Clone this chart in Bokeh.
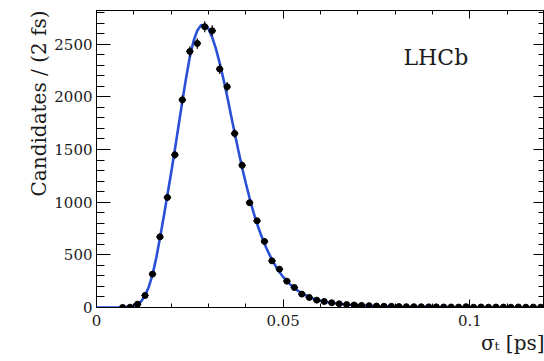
import numpy as np
from bokeh.plotting import figure
from bokeh.models import Range1d, LinearAxis, FixedTicker, Label, ColumnDataSource, Title
from bokeh.embed import file_html
from bokeh.resources import INLINE

# ---- data ----
bin_centers = [0.007, 0.009, 0.011, 0.013, 0.015, 0.017, 0.019, 0.021, 0.023, 0.025,
               0.027, 0.029, 0.031, 0.033, 0.035, 0.037, 0.039, 0.041, 0.043, 0.045,
               0.047, 0.049, 0.051, 0.053, 0.055, 0.057, 0.059, 0.061, 0.063, 0.065,
               0.067, 0.069, 0.071, 0.073, 0.075, 0.077, 0.079, 0.081, 0.083, 0.085,
               0.087, 0.089, 0.091, 0.093, 0.095, 0.097, 0.099, 0.101, 0.103, 0.105,
               0.107, 0.109, 0.111, 0.113, 0.115, 0.117, 0.119]
counts = [1, 3, 32, 114, 317, 671, 1045, 1450, 1972, 2431,
          2507, 2666, 2628, 2264, 2096, 1652, 1350, 995, 823, 627,
          443, 364, 250, 190, 127, 95, 70, 57, 45, 35,
          28, 24, 20, 17, 14, 12, 11, 9, 8, 8,
          7, 6, 6, 5, 5, 4, 8, 3, 5, 3,
          4, 4, 3, 5, 3, 4, 3]

fit_t = [0.000, 0.005, 0.007, 0.009, 0.010, 0.011, 0.012, 0.013, 0.014, 0.015,
         0.016, 0.017, 0.018, 0.019, 0.020, 0.021, 0.022, 0.023, 0.024, 0.025,
         0.026, 0.027, 0.028, 0.029, 0.030, 0.031, 0.032, 0.033, 0.034, 0.035,
         0.036, 0.037, 0.038, 0.039, 0.040, 0.041, 0.042, 0.043, 0.044, 0.045,
         0.046, 0.047, 0.048, 0.049, 0.050, 0.051, 0.052, 0.053, 0.054, 0.055,
         0.056, 0.057, 0.058, 0.059, 0.060, 0.062, 0.064, 0.066, 0.068, 0.070,
         0.075, 0.080, 0.090, 0.100, 0.110, 0.120]
fit_n = [0, 0, 1, 6, 14, 30, 60, 115, 195, 310,
         470, 660, 860, 1070, 1280, 1500, 1730, 1960, 2180, 2380,
         2530, 2630, 2680, 2685, 2645, 2565, 2455, 2320, 2170, 2005,
         1830, 1660, 1490, 1330, 1180, 1040, 910, 795, 695, 605,
         525, 455, 392, 338, 290, 250, 215, 185, 158, 135,
         116, 100, 86, 74, 65, 50, 40, 32, 26, 21,
         14, 10, 6, 4, 3, 2]

x_major_ticks = [0, 0.05, 0.1]
x_tick_labels = ["0", "0.05", "0.1"]
x_minor_ticks = [0.01, 0.02, 0.03, 0.04, 0.06, 0.07, 0.08, 0.09, 0.11]
y_major_ticks = [0, 500, 1000, 1500, 2000, 2500]
y_minor_ticks = [v for v in range(100, 2900, 100) if v % 500 != 0]

y_title = "Candidates / (2 fs)"
x_title = "σₜ [ps]"

FONT = "DejaVu Serif"
FIT_COLOR = "#2a50d8"
TXT = "#1a1a1a"

p = figure(width=544, height=361, x_range=Range1d(0, 0.12), y_range=Range1d(0, 2820),
           output_backend="svg", toolbar_location=None,
           x_axis_type=None, y_axis_type=None,
           min_border_left=96, min_border_right=0, min_border_top=10, min_border_bottom=54)
p.background_fill_color = "white"
p.border_fill_color = "white"
p.outline_line_color = "black"
p.outline_line_width = 1
p.xgrid.visible = False
p.ygrid.visible = False


def style_axis(ax, tin, tmin, labels=True):
    ax.major_tick_in = tin
    ax.major_tick_out = 0
    ax.minor_tick_in = tmin
    ax.minor_tick_out = 0
    ax.axis_line_color = "black"
    ax.major_tick_line_color = "black"
    ax.minor_tick_line_color = "black"
    ax.major_label_text_font = FONT
    ax.major_label_text_font_size = "15px" if labels else "0px"
    ax.major_label_text_color = TXT


xb = LinearAxis(ticker=FixedTicker(ticks=x_major_ticks, minor_ticks=x_minor_ticks))
xb.major_label_overrides = dict(zip(x_major_ticks, x_tick_labels))
style_axis(xb, 8, 4)
xb.major_label_standoff = 7
p.add_layout(xb, "below")

xt = LinearAxis(ticker=FixedTicker(ticks=x_major_ticks, minor_ticks=x_minor_ticks))
xt.major_label_overrides = {t: "" for t in x_major_ticks}
style_axis(xt, 8, 4, labels=False)
xt.major_label_standoff = 0
p.add_layout(xt, "above")

yl = LinearAxis(ticker=FixedTicker(ticks=y_major_ticks, minor_ticks=y_minor_ticks))
style_axis(yl, 14, 8)
yl.major_label_standoff = 4
p.add_layout(yl, "left")

yr = LinearAxis(ticker=FixedTicker(ticks=y_major_ticks, minor_ticks=y_minor_ticks))
yr.major_label_overrides = {t: "" for t in y_major_ticks}
style_axis(yr, 11, 6, labels=False)
yr.major_label_standoff = 0
p.add_layout(yr, "right")

# axis titles, aligned to the axis ends as in the reference
p.add_layout(Title(text=y_title, align="right", text_font=FONT, text_font_size="20px",
                   text_font_style="normal", text_color=TXT, standoff=2), "left")
p.add_layout(Title(text=x_title, align="right", text_font=FONT, text_font_size="20px",
                   text_font_style="normal", text_color=TXT, standoff=0), "below")

# fit curve
p.line(fit_t, fit_n, line_color=FIT_COLOR, line_width=2.6)

# data with error bars
c = np.array(counts, dtype=float)
x = np.array(bin_centers)
err = np.sqrt(c)
src = ColumnDataSource(dict(x=x, y=c, lo=c - err, hi=c + err, xl=x - 0.001, xr=x + 0.001))
p.segment(x0="x", y0="lo", x1="x", y1="hi", source=src, line_color="black", line_width=1.2)
p.segment(x0="xl", y0="y", x1="xr", y1="y", source=src, line_color="black", line_width=1.2)
p.scatter("x", "y", source=src, size=6, marker="circle", fill_color="black", line_color="black")

p.add_layout(Label(x=307, y=250, x_units="screen", y_units="screen", text="LHCb",
                   text_align="left", text_baseline="alphabetic",
                   text_font=FONT, text_font_size="22px", text_color=TXT))

open("out.html", "w").write(file_html(p, INLINE))
